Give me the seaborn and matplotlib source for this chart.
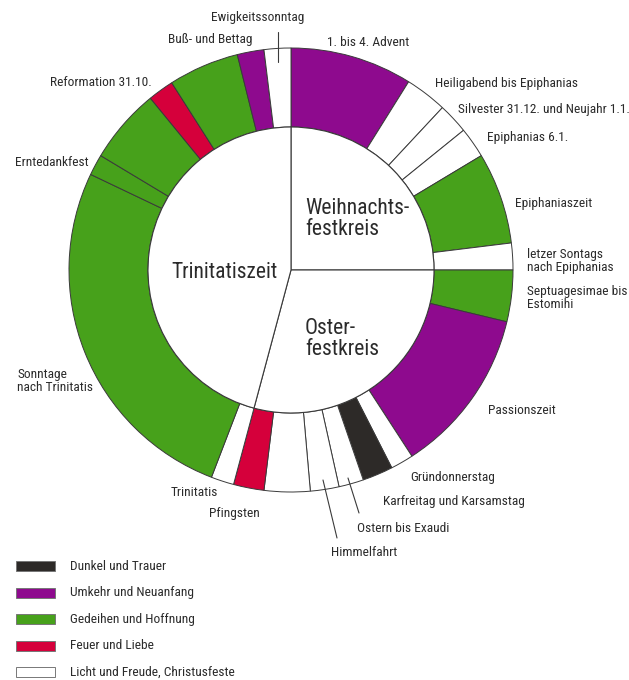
import matplotlib
matplotlib.use("Agg")
import matplotlib.pyplot as plt
import seaborn as sns
from matplotlib.patches import Rectangle
from matplotlib import font_manager

# Kirchenjahr: Abschnitte im Uhrzeigersinn ab 12 Uhr (Spanne in Grad)
segments = ["1. bis 4. Advent", "Heiligabend bis Epiphanias", "Silvester 31.12. und Neujahr 1.1.",
            "Epiphanias 6.1.", "Epiphaniaszeit", "letzer Sontags\nnach Epiphanias",
            "Septuagesimae bis\nEstomihi", "Passionszeit", "Gründonnerstag",
            "Karfreitag und Karsamstag", "Ostern bis Exaudi", "Himmelfahrt", "",
            "Pfingsten", "Trinitatis", "Sonntage\nnach Trinitatis", "Erntedankfest", "",
            "Reformation 31.10.", "", "Buß- und Bettag", "Ewigkeitssonntag"]
spans = [32, 11, 8, 8, 24, 7, 13.5, 43.5, 6, 8, 6.5, 7.5, 12, 8, 6, 94.5, 5.5, 19.7, 6.8, 18.5, 7, 7]
kinds = ["U", "L", "L", "L", "G", "L", "G", "U", "L", "D", "L", "L", "L",
         "F", "L", "G", "G", "G", "F", "G", "U", "L"]

# Festkreise im Inneren
circles = ["Weihnachts-\nfestkreis", "Oster-\nfestkreis", "Trinitatiszeit"]
circle_spans = [90, 105, 165]

legend_kinds = ["D", "U", "G", "F", "L"]
legend_names = ["Dunkel und Trauer", "Umkehr und Neuanfang", "Gedeihen und Hoffnung",
                "Feuer und Liebe", "Licht und Freude, Christusfeste"]

palette = dict(zip(legend_kinds, sns.color_palette(
    ["#2d2a28", "#8e0a8e", "#47a11b", "#d5003b", "#ffffff"])))

sns.set_theme(style="white")
installed = {f.name for f in font_manager.fontManager.ttflist}
fams = [f for f in ["Liberation Sans Narrow", "Roboto Condensed", "Open Sans Condensed"] if f in installed]
plt.rcParams["font.family"] = fams + ["DejaVu Sans"]

W, H = 629, 680
CX, CY = 291, 270
R_OUT, R_IN = 222, 143
EDGE = "#3a3a3a"
TXT = "#2b2b2b"
SMALL = 9.6


def p(x, y):
    # pixel coordinates of the picture -> data coordinates
    return x - CX, CY - y


fig = plt.figure(figsize=(W / 100, H / 100), dpi=100)
ax = fig.add_axes([0, 0, 1, 1])

ax.pie(spans, colors=[palette[k] for k in kinds], startangle=90, counterclock=False,
       radius=R_OUT, wedgeprops=dict(width=R_OUT - R_IN, edgecolor=EDGE, linewidth=0.7))
ax.pie(circle_spans, colors=["white"] * 3, startangle=90, counterclock=False,
       radius=R_IN, wedgeprops=dict(edgecolor=EDGE, linewidth=0.8))
ax.set_xlim(-CX, W - CX)
ax.set_ylim(CY - H, CY)
ax.set_aspect("equal")
ax.axis("off")

# Beschriftungen der Abschnitte (Position im Bild, Ausrichtung)
label_pos = {
    "1. bis 4. Advent": (327, 42, "left"),
    "Heiligabend bis Epiphanias": (435, 83, "left"),
    "Silvester 31.12. und Neujahr 1.1.": (458, 110, "left"),
    "Epiphanias 6.1.": (487, 138, "left"),
    "Epiphaniaszeit": (515, 204, "left"),
    "letzer Sontags\nnach Epiphanias": (527, 261, "left"),
    "Septuagesimae bis\nEstomihi": (527, 298, "left"),
    "Passionszeit": (488, 410, "left"),
    "Gründonnerstag": (410, 477, "left"),
    "Karfreitag und Karsamstag": (383, 502, "left"),
    "Ostern bis Exaudi": (357, 528, "left"),
    "Himmelfahrt": (331, 553, "left"),
    "Pfingsten": (209, 514, "left"),
    "Trinitatis": (218, 493, "right"),
    "Sonntage\nnach Trinitatis": (17, 381, "left"),
    "Erntedankfest": (15, 162, "left"),
    "Reformation 31.10.": (152, 83, "right"),
    "Buß- und Bettag": (252, 40, "right"),
    "Ewigkeitssonntag": (258, 18, "center"),
}
for name in segments:
    if name in label_pos:
        x, y, ha = label_pos[name]
        ax.text(*p(x, y), name, ha=ha, va="center", fontsize=SMALL, color=TXT,
                linespacing=1.05)

# Hinweislinien
for (x0, y0), (x1, y1) in [((278, 32), (278, 62)), ((359, 513), (348, 478)),
                           ((337, 538), (323, 480))]:
    ax.plot(*zip(p(x0, y0), p(x1, y1)), color=EDGE, lw=0.8)

# Festkreise
for name, (x, y, ha) in zip(circles, [(305, 219, "left"), (305, 339, "left"), (224, 272, "center")]):
    ax.text(*p(x, y), name, ha=ha, va="center", fontsize=15.5, color=TXT, linespacing=1.05)

# Legende
for i, (k, name) in enumerate(zip(legend_kinds, legend_names)):
    y = 566 + i * 26.5
    x0, y0 = p(16, y + 5)
    ax.add_patch(Rectangle((x0, y0), 39, 10, facecolor=palette[k], edgecolor="#777777", lw=0.7))
    ax.text(*p(70, y), name, ha="left", va="center", fontsize=SMALL, color=TXT)

fig.savefig("out.png", dpi=100)
